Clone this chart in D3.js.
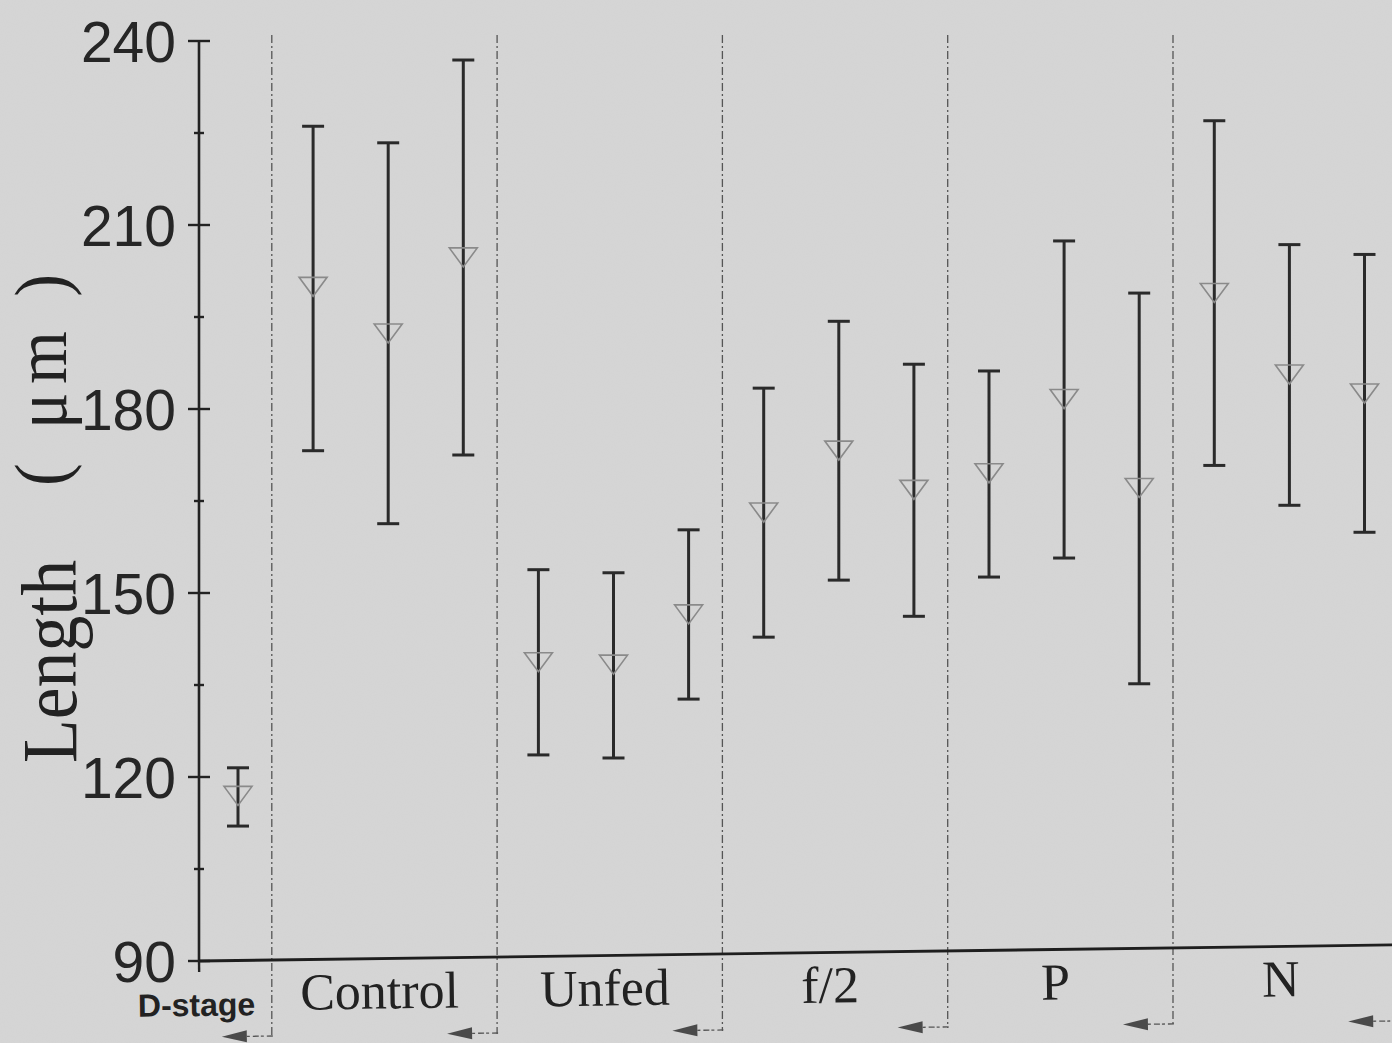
<!DOCTYPE html>
<html>
<head>
<meta charset="utf-8">
<script src="https://cdn.jsdelivr.net/npm/d3@7"></script>
<style>
  html, body { margin: 0; padding: 0; background: #d6d6d6; }
  svg { display: block; }
</style>
</head>
<body>
<svg id="chart" width="1392" height="1043"></svg>
<script>
// ---------- data ----------
const categories = ["D-stage", "Control", "Unfed", "f/2", "P", "N"];
const pointCategory = ["D-stage",
  "Control", "Control", "Control",
  "Unfed", "Unfed", "Unfed",
  "f/2", "f/2", "f/2",
  "P", "P", "P",
  "N", "N", "N"];
const means = [117.0, 200.0, 192.4, 204.8, 138.8, 138.4, 146.6, 163.2, 173.3, 166.9, 169.6, 181.7, 167.2, 199.0, 185.7, 182.6];
const lower = [112.0, 173.2, 161.3, 172.5, 123.6, 123.1, 132.7, 142.8, 152.1, 146.2, 152.6, 155.7, 135.2, 170.8, 164.3, 159.9];
const upper = [121.5, 226.1, 223.4, 236.9, 153.8, 153.3, 160.3, 183.4, 194.3, 187.3, 186.2, 207.4, 198.9, 227.0, 206.8, 205.2];
const yMajorTicks = [90, 120, 150, 180, 210, 240];
const yMinorTicks = [105, 135, 165, 195, 225];
const yLabelMain = "Length";
const yLabelUnit = "( μm )";

// ---------- layout ----------
const svg = d3.select("#chart");
const W = 1392, H = 1043;
const axisX = 199;
const y = d3.scaleLinear().domain([90, 240]).range([961, 41]);
const x = d3.scaleLinear().domain([0, 15]).range([238, 1364.5]);
const tilt = -0.77; // scan tilt of the x-axis band

svg.append("rect").attr("width", W).attr("height", H).attr("fill", "#d6d6d6");

// subtle paper grain
const defs = svg.append("defs");
const f = defs.append("filter").attr("id", "grain").attr("x", 0).attr("y", 0).attr("width", "100%").attr("height", "100%");
f.append("feTurbulence").attr("type", "fractalNoise").attr("baseFrequency", 0.9).attr("numOctaves", 2).attr("seed", 3).attr("result", "n");
f.append("feColorMatrix").attr("type", "matrix")
  .attr("values", "0 0 0 0 0.5  0 0 0 0 0.5  0 0 0 0 0.5  0 0 0 0.10 0");
svg.append("rect").attr("width", W).attr("height", H).attr("filter", "url(#grain)");

// group index info
const groupIdx = categories.map(c => pointCategory.map((p, i) => p === c ? i : -1).filter(i => i >= 0));
const dividerIdx = categories.slice(0, -1).map((c, k) => d3.max(groupIdx[k]) + 0.45);

// ---------- dividers (dash-dot, ending in left arrows) ----------
const arrowY0 = 1038;
const tanT = Math.tan(-tilt * Math.PI / 180);
const dividers = svg.append("g");
dividers.selectAll("line.div").data(dividerIdx).join("line")
  .attr("class", "div")
  .attr("x1", d => x(d)).attr("x2", d => x(d))
  .attr("y1", 35)
  .attr("y2", d => arrowY0 - (x(d) - axisX) * tanT)
  .attr("stroke", "#555").attr("stroke-width", 1.3)
  .attr("stroke-dasharray", "8,3,2,3");

// ---------- y axis ----------
const yAxis = svg.append("g").attr("transform", `translate(${axisX},0)`);
yAxis.append("line").attr("x1", 0).attr("x2", 0).attr("y1", y(240)).attr("y2", y(90))
  .attr("stroke", "#222").attr("stroke-width", 2.6);
yAxis.selectAll("line.maj").data(yMajorTicks).join("line").attr("class", "maj")
  .attr("x1", -11).attr("x2", 11).attr("y1", d => y(d)).attr("y2", d => y(d))
  .attr("stroke", "#222").attr("stroke-width", 2.4);
yAxis.selectAll("line.min").data(yMinorTicks).join("line").attr("class", "min")
  .attr("x1", -5).attr("x2", 5).attr("y1", d => y(d)).attr("y2", d => y(d))
  .attr("stroke", "#222").attr("stroke-width", 2.4);
yAxis.selectAll("text").data(yMajorTicks).join("text")
  .attr("x", -23).attr("y", d => y(d)).attr("dy", "0.36em")
  .attr("text-anchor", "end")
  .attr("font-family", "'Liberation Sans', Arial, sans-serif")
  .attr("font-size", 57).attr("fill", "#262626")
  .text(d => d);

// y label (stretched serif as in the scan)
svg.append("text")
  .attr("transform", "translate(76,763) rotate(-90) scale(1,1.15)")
  .attr("font-family", "'Liberation Serif', 'Times New Roman', serif")
  .attr("font-size", 68).attr("fill", "#222")
  .attr("textLength", 203).attr("lengthAdjust", "spacingAndGlyphs")
  .text(yLabelMain);
svg.append("text")
  .attr("transform", "translate(66,486) rotate(-90) scale(1,1.1)")
  .attr("font-family", "'Liberation Serif', 'Times New Roman', serif")
  .attr("font-size", 68).attr("fill", "#222")
  .attr("textLength", 212).attr("lengthAdjust", "spacing")
  .text(yLabelUnit);

// ---------- x axis band (tilted like the scan) ----------
const xBand = svg.append("g").attr("transform", `rotate(${tilt},${axisX},${y(90)})`);
xBand.append("line").attr("x1", axisX).attr("x2", W + 20).attr("y1", y(90)).attr("y2", y(90))
  .attr("stroke", "#1e1e1e").attr("stroke-width", 2.8);
xBand.append("line").attr("x1", axisX).attr("x2", axisX).attr("y1", y(90)).attr("y2", y(90) + 11)
  .attr("stroke", "#222").attr("stroke-width", 2.4);

const labelPos = categories.map((c, k) => k === 0 ? x(0) - 42 : x(d3.mean(groupIdx[k]) - 0.12));
xBand.selectAll("text.cat").data(categories).join("text").attr("class", "cat")
  .attr("x", (d, k) => labelPos[k])
  .attr("y", (d, k) => k === 0 ? 1016 : 1011)
  .attr("text-anchor", "middle")
  .attr("font-family", (d, k) => k === 0 ? "'Liberation Sans', Arial, sans-serif" : "'Liberation Serif', 'Times New Roman', serif")
  .attr("font-weight", (d, k) => k === 0 ? "bold" : "normal")
  .attr("font-size", (d, k) => k === 0 ? 32 : 52)
  .attr("fill", "#222")
  .text(d => d);

// arrows under each divider
const arrows = xBand.selectAll("g.arrow").data(dividerIdx.concat([15.45])).join("g").attr("class", "arrow");
arrows.append("line")
  .attr("x1", d => x(d) - 26).attr("x2", d => x(d))
  .attr("y1", arrowY0 - 1).attr("y2", arrowY0 - 1)
  .attr("stroke", "#555").attr("stroke-width", 1.3).attr("stroke-dasharray", "3,3,6,2");
arrows.append("path")
  .attr("d", d => {
    const p = d3.path();
    const tip = x(d) - 51;
    p.moveTo(tip, arrowY0 - 1);
    p.lineTo(tip + 25, arrowY0 - 7);
    p.lineTo(tip + 25, arrowY0 + 5);
    p.closePath();
    return p.toString();
  })
  .attr("fill", "#4a4a4a");

// ---------- error bars ----------
const idx = d3.range(means.length);
const bars = svg.append("g").attr("stroke", "#2a2a2a").attr("stroke-width", 3);
bars.selectAll("line.v").data(idx).join("line").attr("class", "v")
  .attr("x1", i => x(i)).attr("x2", i => x(i))
  .attr("y1", i => y(upper[i])).attr("y2", i => y(lower[i]));
bars.selectAll("line.t").data(idx).join("line").attr("class", "t")
  .attr("x1", i => x(i) - 11).attr("x2", i => x(i) + 11)
  .attr("y1", i => y(upper[i])).attr("y2", i => y(upper[i]));
bars.selectAll("line.b").data(idx).join("line").attr("class", "b")
  .attr("x1", i => x(i) - 11).attr("x2", i => x(i) + 11)
  .attr("y1", i => y(lower[i])).attr("y2", i => y(lower[i]));

// ---------- mean markers (hollow down-triangles) ----------
svg.append("g").selectAll("path").data(idx).join("path")
  .attr("d", i => {
    const cx = x(i), cy = y(means[i]);
    const p = d3.path();
    p.moveTo(cx - 14, cy - 9);
    p.lineTo(cx + 14, cy - 9);
    p.lineTo(cx, cy + 10);
    p.closePath();
    return p.toString();
  })
  .attr("fill", "none").attr("stroke", "#8a8a8a").attr("stroke-width", 1.6);
</script>
</body>
</html>
